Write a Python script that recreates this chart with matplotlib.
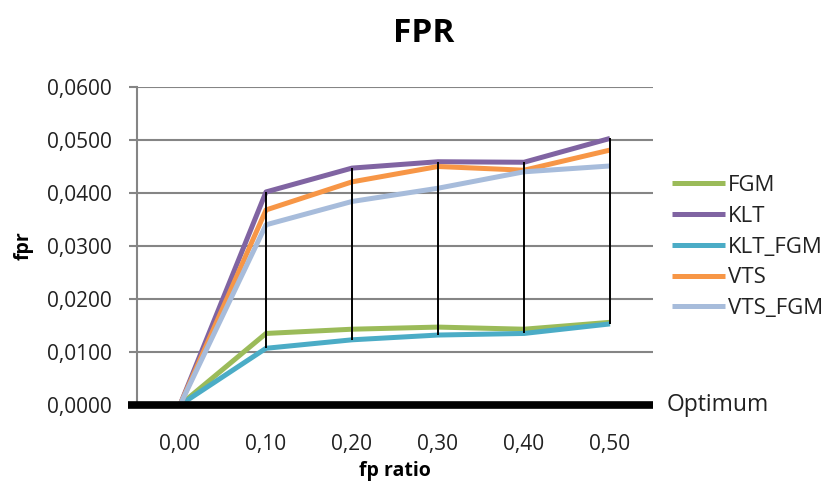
import matplotlib
matplotlib.use("Agg")
import matplotlib.pyplot as plt
import numpy as np

plt.rcParams['font.family'] = ['Open Sans', 'DejaVu Sans']

# fp ratio categories
categories = ["0,00", "0,10", "0,20", "0,30", "0,40", "0,50"]

# false positive rate per method
fgm = [0.0000, 0.0135, 0.0143, 0.0147, 0.0143, 0.0156]
klt = [0.0000, 0.0402, 0.0447, 0.0459, 0.0458, 0.0503]
klt_fgm = [0.0000, 0.0107, 0.0123, 0.0132, 0.0135, 0.0153]
vts = [0.0000, 0.0368, 0.0421, 0.0450, 0.0443, 0.0481]
vts_fgm = [0.0000, 0.0340, 0.0384, 0.0409, 0.0440, 0.0451]
optimum = 0.0

series_names = ["FGM", "KLT", "KLT_FGM", "VTS", "VTS_FGM"]
series_values = [fgm, klt, klt_fgm, vts, vts_fgm]
series_colors = ["#9BBB59", "#8064A2", "#4BACC6", "#F79646", "#A7BCDB"]

y_ticks = [0.00, 0.01, 0.02, 0.03, 0.04, 0.05, 0.06]
y_tick_labels = ["0,0000", "0,0100", "0,0200", "0,0300", "0,0400", "0,0500", "0,0600"]

fig = plt.figure(figsize=(8.33, 4.88), dpi=100)
ax = fig.add_axes([137 / 833, 1 - 405 / 488, (653 - 137) / 833, (405 - 87) / 488])

x = np.arange(len(categories))

# horizontal gridlines
for yt in y_ticks[1:]:
    ax.axhline(yt, color="#858585", lw=1.5, zorder=1)

for name, vals, col in zip(series_names, series_values, series_colors):
    ax.plot(x, vals, color=col, lw=3.6, label=name, zorder=3, solid_capstyle="butt")

# high-low lines between the extreme series at each category
data = np.array(series_values)
ax.vlines(x, data.min(axis=0), data.max(axis=0), color="black", lw=1.4, zorder=4)

# optimum baseline
ax.axhline(optimum, xmin=-0.018, xmax=1.0, color="black", lw=5.5, zorder=5,
           clip_on=False, solid_capstyle="butt")
ax.text(1.027, optimum, "Optimum", transform=ax.get_yaxis_transform(),
        ha="left", va="center", fontsize=16.5, color="#222222")

ax.set_xlim(-0.5, len(categories) - 0.5)
ax.set_ylim(0, 0.06)
ax.set_xticks(x)
ax.set_xticklabels(categories)
ax.set_yticks(y_ticks)
ax.set_yticklabels(y_tick_labels)

ax.tick_params(axis="x", length=0, pad=21, labelsize=15, labelcolor="#222222")
ax.tick_params(axis="y", length=6, width=1.5, color="#858585", pad=12,
               labelsize=15, labelcolor="#222222")

for side in ["top", "right", "bottom"]:
    ax.spines[side].set_visible(False)
ax.spines["left"].set_color("#858585")
ax.spines["left"].set_linewidth(1.5)

ax.set_xlabel("fp ratio", fontsize=14, fontweight="bold", labelpad=4)
ax.set_ylabel("fpr", fontsize=14, fontweight="bold", labelpad=10)

fig.text(424 / 833, 1 - 34 / 488, "FPR", ha="center", va="center",
         fontsize=24, fontweight="bold")

leg = ax.legend(loc="upper left", bbox_to_anchor=(672 / 833, 1 - 175 / 488),
                bbox_transform=fig.transFigure, frameon=False, fontsize=16,
                handlelength=2.4, handletextpad=0.12, labelspacing=0.44,
                borderaxespad=0, borderpad=0)
for t in leg.get_texts():
    t.set_color("#222222")
for h in leg.get_lines():
    h.set_linewidth(3.6)

fig.savefig("out.png", dpi=100)
